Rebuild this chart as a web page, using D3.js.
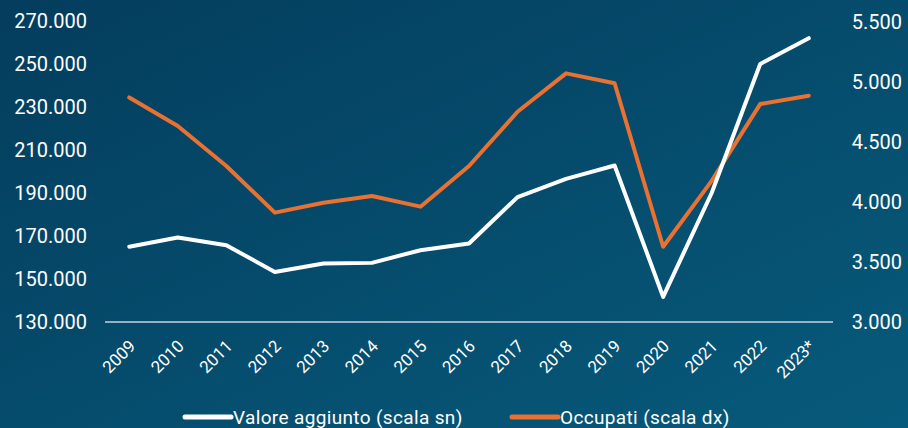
<!DOCTYPE html>
<html><head><meta charset="utf-8">
<script src="https://cdn.jsdelivr.net/npm/d3@7"></script>
<style>html,body{margin:0;padding:0;background:#054868;}svg{display:block;}</style>
</head><body><svg id="c" width="908" height="428"></svg>
<script>
const years = ["2009","2010","2011","2012","2013","2014","2015","2016","2017","2018","2019","2020","2021","2022","2023*"];
const valoreAggiunto = [165000,169300,165700,153300,157200,157500,163400,166500,188100,196600,202800,141700,190000,250000,262000];
const occupati = [4867,4629,4296,3907,3990,4046,3957,4296,4748,5068,4985,3623,4172,4812,4882];
const leftTicks = [130000,150000,170000,190000,210000,230000,250000,270000];
const rightTicks = [3000,3500,4000,4500,5000,5500];
const seriesNames = ["Valore aggiunto (scala sn)","Occupati (scala dx)"];
const colors = ["#ffffff","#e97132"];

const svg = d3.select("#c");
const W = 908, H = 428;
const defs = svg.append("defs");
const g = defs.append("linearGradient").attr("id","bg").attr("x1","0").attr("y1","0").attr("x2","1").attr("y2","1");
g.append("stop").attr("offset","0").attr("stop-color","#043d5d");
g.append("stop").attr("offset","1").attr("stop-color","#075a7b");
svg.append("rect").attr("width",W).attr("height",H).attr("fill","url(#bg)");

const x = d3.scaleBand().domain(years).range([105,833]);
const yL = d3.scaleLinear().domain([130000,270000]).range([322,21]);
const yR = d3.scaleLinear().domain([3000,5500]).range([321.5,21.5]);
const fmt = d3.formatLocale({decimal:",",thousands:".",grouping:[3]}).format(",.0f");
const font = "Roboto, 'Noto Sans', sans-serif";

// baseline
svg.append("line").attr("x1",105).attr("x2",833).attr("y1",322).attr("y2",322)
  .attr("stroke","#c9d3dc").attr("stroke-width",1.5);

// left axis labels
svg.append("g").selectAll("text").data(leftTicks).join("text")
  .attr("x",87).attr("y",d=>yL(d)).attr("dy","0.35em").attr("text-anchor","end")
  .attr("fill","#ffffff").attr("font-family",font).attr("font-size",20).text(d=>fmt(d));
// right axis labels
svg.append("g").selectAll("text").data(rightTicks).join("text")
  .attr("x",902).attr("y",d=>yR(d)).attr("dy","0.35em").attr("text-anchor","end")
  .attr("fill","#ffffff").attr("font-family",font).attr("font-size",20).text(d=>fmt(d));
// x labels
svg.append("g").selectAll("text").data(years).join("text")
  .attr("transform",d=>`translate(${x(d)+x.bandwidth()/2+3},${343}) rotate(-45)`)
  .attr("text-anchor","end").attr("dy","0.35em")
  .attr("fill","#ffffff").attr("font-family",font).attr("font-size",17).text(d=>d);

const cx = d=>x(d)+x.bandwidth()/2;
const lineL = d3.line().x((d,i)=>cx(years[i])).y(d=>yL(d));
const lineR = d3.line().x((d,i)=>cx(years[i])).y(d=>yR(d));
svg.append("path").datum(occupati).attr("d",lineR).attr("fill","none")
  .attr("stroke",colors[1]).attr("stroke-width",4).attr("stroke-linecap","round").attr("stroke-linejoin","round");
svg.append("path").datum(valoreAggiunto).attr("d",lineL).attr("fill","none")
  .attr("stroke",colors[0]).attr("stroke-width",4).attr("stroke-linecap","round").attr("stroke-linejoin","round");

// legend
const leg = [{x:185,name:seriesNames[0],c:colors[0]},{x:512,name:seriesNames[1],c:colors[1]}];
const lg = svg.append("g");
leg.forEach(l=>{
  lg.append("line").attr("x1",l.x).attr("x2",l.x+46).attr("y1",417).attr("y2",417)
    .attr("stroke",l.c).attr("stroke-width",5).attr("stroke-linecap","round");
  lg.append("text").attr("x",l.x+48).attr("y",417).attr("dy","0.35em")
    .attr("fill","#ffffff").attr("font-family",font).attr("font-size",19)
    .attr("letter-spacing","0.35px").text(l.name);
});
</script></body></html>
